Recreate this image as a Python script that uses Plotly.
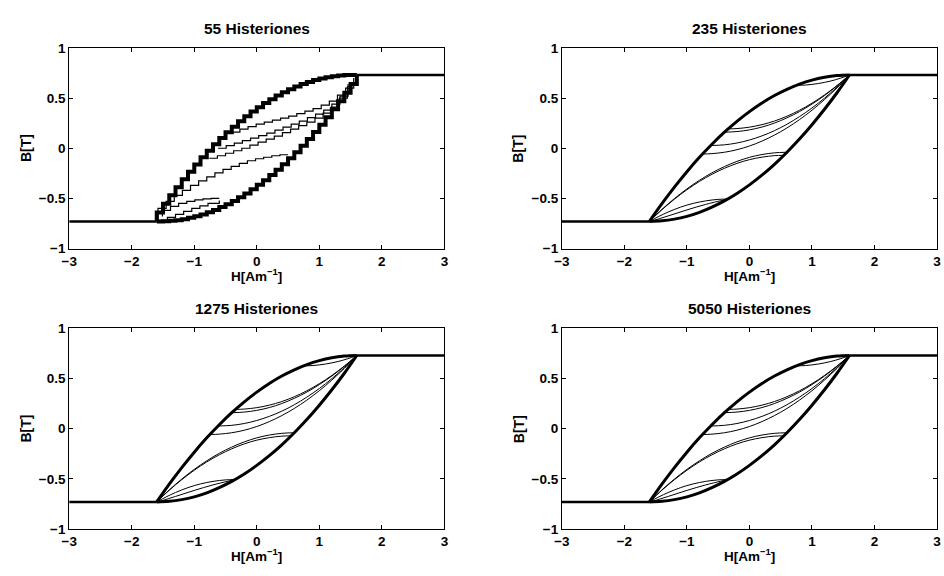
import plotly.graph_objects as go

# ---------------- data ----------------
# saturation segments
H_sat_left = [-3.0, -1.6]
B_sat_left = [-0.73, -0.73]
H_sat_right = [1.6, 3.0]
B_sat_right = [0.73, 0.73]

# smooth major loop (235 / 1275 / 5050 hysterons)
H_upper = [1.6, 1.4, 1.2, 1.0, 0.8, 0.6, 0.4, 0.2, 0.0, -0.2, -0.4, -0.6, -0.8, -1.0, -1.2, -1.4, -1.6]
B_upper = [0.73, 0.724, 0.707, 0.679, 0.639, 0.587, 0.525, 0.451, 0.365, 0.268, 0.160, 0.040, -0.091, -0.234, -0.388, -0.553, -0.73]
H_lower = [-1.6, -1.4, -1.2, -1.0, -0.8, -0.6, -0.4, -0.2, 0.0, 0.2, 0.4, 0.6, 0.8, 1.0, 1.2, 1.4, 1.6]
B_lower = [-0.73, -0.724, -0.707, -0.679, -0.639, -0.587, -0.525, -0.451, -0.365, -0.268, -0.160, -0.040, 0.091, 0.234, 0.388, 0.553, 0.73]

# minor curves (smooth panels)
H_c0 = [0.75, 0.9, 1.1, 1.3, 1.45, 1.6]
B_c0 = [0.627, 0.630, 0.645, 0.670, 0.697, 0.73]
H_c1 = [-0.4, -0.2, 0.0, 0.2, 0.4, 0.6, 0.8, 1.0, 1.2, 1.4, 1.6]
B_c1 = [0.16, 0.166, 0.183, 0.211, 0.251, 0.303, 0.365, 0.44, 0.525, 0.622, 0.73]
H_c1b = [-0.34, -0.2, 0.0, 0.2, 0.4, 0.6, 0.8, 1.0, 1.2, 1.4, 1.6]
B_c1b = [0.193, 0.196, 0.21, 0.235, 0.271, 0.319, 0.378, 0.449, 0.531, 0.625, 0.73]
H_c2 = [-0.62, -0.4, -0.2, 0.0, 0.2, 0.4, 0.6, 0.8, 1.0, 1.2, 1.4, 1.6]
B_c2 = [0.027, 0.034, 0.052, 0.082, 0.123, 0.175, 0.239, 0.315, 0.401, 0.499, 0.609, 0.73]
H_c3 = [-0.75, -0.6, -0.4, -0.2, 0.0, 0.2, 0.4, 0.6, 0.8, 1.0, 1.2, 1.4, 1.6]
B_c3 = [-0.058, -0.054, -0.04, -0.015, 0.022, 0.071, 0.131, 0.202, 0.285, 0.379, 0.485, 0.601, 0.73]
H_d1 = [0.55, 0.4, 0.2, 0.0, -0.2, -0.4, -0.6, -0.8, -1.0, -1.2, -1.4, -1.6]
B_d1 = [-0.071, -0.074, -0.089, -0.114, -0.151, -0.2, -0.26, -0.331, -0.414, -0.508, -0.613, -0.73]
H_d1b = [0.6, 0.4, 0.2, 0.0, -0.2, -0.4, -0.6, -0.8, -1.0, -1.2, -1.4, -1.6]
B_d1b = [-0.04, -0.046, -0.063, -0.091, -0.131, -0.183, -0.245, -0.32, -0.405, -0.502, -0.61, -0.73]
H_d2 = [-0.35, -0.5, -0.7, -0.9, -1.1, -1.3, -1.45, -1.6]
B_d2 = [-0.507, -0.510, -0.525, -0.55, -0.587, -0.636, -0.68, -0.73]
H_d3 = [-1.58, -1.3, -1.0, -0.7, -0.35]
B_d3 = [-0.73, -0.675, -0.615, -0.56, -0.507]

# 55-hysteron panel: stepped major loop and stepped inner curves
H_up_steps = [1.6, 1.5, 1.4, 1.3, 1.2, 1.1, 1.0, 0.9, 0.8, 0.7, 0.6, 0.5, 0.4, 0.3, 0.2, 0.1, 0.0,
              -0.1, -0.2, -0.3, -0.4, -0.5, -0.6, -0.7, -0.8, -0.9, -1.0, -1.1, -1.2, -1.3, -1.4, -1.5, -1.6]
B_up_steps = [0.73, 0.729, 0.724, 0.717, 0.707, 0.694, 0.679, 0.660, 0.639, 0.615, 0.587, 0.558, 0.525,
              0.489, 0.451, 0.409, 0.365, 0.318, 0.268, 0.215, 0.160, 0.101, 0.040, -0.024, -0.091,
              -0.161, -0.234, -0.310, -0.388, -0.469, -0.553, -0.640, -0.730]
H_lo_steps = [-1.6, -1.5, -1.4, -1.3, -1.2, -1.1, -1.0, -0.9, -0.8, -0.7, -0.6, -0.5, -0.4, -0.3, -0.2, -0.1, 0.0,
              0.1, 0.2, 0.3, 0.4, 0.5, 0.6, 0.7, 0.8, 0.9, 1.0, 1.1, 1.2, 1.3, 1.4, 1.5, 1.6]
B_lo_steps = [-0.73, -0.729, -0.724, -0.717, -0.707, -0.694, -0.679, -0.660, -0.639, -0.615, -0.587, -0.558, -0.525,
              -0.489, -0.451, -0.409, -0.365, -0.318, -0.268, -0.215, -0.160, -0.101, -0.040, 0.024, 0.091,
              0.161, 0.234, 0.310, 0.388, 0.469, 0.553, 0.640, 0.730]
H_s1 = [-0.4, -0.27, -0.14, -0.01, 0.12, 0.25, 0.38, 0.51, 0.64, 0.77, 0.9, 1.03, 1.16, 1.29, 1.42, 1.55]
B_s1 = [0.16, 0.19, 0.215, 0.24, 0.26, 0.28, 0.3, 0.32, 0.345, 0.37, 0.395, 0.43, 0.47, 0.53, 0.6, 0.7]
H_s2 = [-0.62, -0.49, -0.36, -0.23, -0.1, 0.03, 0.16, 0.29, 0.42, 0.55, 0.68, 0.81, 0.94, 1.07, 1.2, 1.33, 1.46]
B_s2 = [0.0, 0.025, 0.05, 0.075, 0.1, 0.125, 0.15, 0.18, 0.21, 0.24, 0.27, 0.305, 0.34, 0.38, 0.44, 0.52, 0.64]
H_s3 = [-0.76, -0.63, -0.5, -0.37, -0.24, -0.11, 0.02, 0.15, 0.28, 0.41, 0.54, 0.67, 0.8, 0.93, 1.06, 1.19, 1.32, 1.45]
B_s3 = [-0.1, -0.075, -0.05, -0.025, 0.0, 0.03, 0.06, 0.09, 0.12, 0.155, 0.19, 0.225, 0.26, 0.3, 0.35, 0.41, 0.5, 0.62]
H_s4 = [0.5, 0.37, 0.24, 0.11, -0.02, -0.15, -0.28, -0.41, -0.54, -0.67, -0.8, -0.93, -1.06, -1.19, -1.32, -1.45, -1.58]
B_s4 = [-0.065, -0.075, -0.09, -0.105, -0.125, -0.15, -0.18, -0.21, -0.245, -0.285, -0.325, -0.37, -0.42, -0.47, -0.53, -0.6, -0.72]
H_s5 = [-0.6, -0.73, -0.86, -0.99, -1.12, -1.25, -1.38, -1.51]
B_s5 = [-0.5, -0.505, -0.515, -0.53, -0.55, -0.58, -0.62, -0.68]
H_s6 = [-1.56, -1.43, -1.3, -1.17, -1.04, -0.91, -0.78, -0.6]
B_s6 = [-0.72, -0.69, -0.66, -0.63, -0.6, -0.575, -0.55, -0.52]

titles = ["55 Histeriones", "235 Histeriones", "1275 Histeriones", "5050 Histeriones"]
x_ticks = [-3, -2, -1, 0, 1, 2, 3]
x_ticktext = ["\u22123", "\u22122", "\u22121", "0", "1", "2", "3"]
y_ticks = [-1, -0.5, 0, 0.5, 1]
y_ticktext = ["\u22121", "\u22120.5", "0", "0.5", "1"]

# ---------------- figure ----------------
W, H = 944, 576
fig = go.Figure()

# pixel boxes of the four axes (left, right, top, bottom)
boxes = [(62, 442, 42, 248), (561, 941, 42, 248), (62, 442, 330, 536), (561, 941, 330, 536)]

def add(i, xs, ys, width, shape="linear"):
    ax = "" if i == 0 else str(i + 1)
    fig.add_trace(go.Scatter(x=xs, y=ys, mode="lines",
                             line=dict(color="black", width=width, shape=shape),
                             xaxis="x" + ax, yaxis="y" + ax,
                             showlegend=False, hoverinfo="skip"))

# panel 1 (stepped)
add(0, H_sat_left, B_sat_left, 2.5)
add(0, H_sat_right, B_sat_right, 2.5)
for hx, by in [(H_s1, B_s1), (H_s2, B_s2), (H_s3, B_s3), (H_s4, B_s4), (H_s5, B_s5), (H_s6, B_s6)]:
    add(0, hx, by, 1.2, "hv")
add(0, H_up_steps, B_up_steps, 4, "hv")
add(0, H_lo_steps, B_lo_steps, 4, "hv")

# panels 2-4 (smooth)
for i in (1, 2, 3):
    add(i, H_sat_left, B_sat_left, 2.5)
    add(i, H_sat_right, B_sat_right, 2.5)
    for hx, by in [(H_c0, B_c0), (H_c1, B_c1), (H_c1b, B_c1b), (H_c2, B_c2), (H_c3, B_c3),
                   (H_d1, B_d1), (H_d1b, B_d1b), (H_d2, B_d2), (H_d3, B_d3)]:
        add(i, hx, by, 1.0, "spline")
    add(i, H_upper, B_upper, 3.0, "spline")
    add(i, H_lower, B_lower, 3.0, "spline")

tickfont = dict(family="Liberation Sans", size=13.5, color="black", weight="bold")
layout = dict(width=W, height=H, margin=dict(l=0, r=0, t=0, b=0),
              paper_bgcolor="white", plot_bgcolor="white", showlegend=False)
annotations = []
for i, (l, r, t, b) in enumerate(boxes):
    ax = "" if i == 0 else str(i + 1)
    layout["xaxis" + ax] = dict(domain=[l / W, r / W], anchor="y" + ax, range=[-3, 3],
                                tickvals=x_ticks, ticktext=x_ticktext, ticks="inside", ticklen=4,
                                tickcolor="black", showline=True, linecolor="black", linewidth=1,
                                mirror="ticks", showgrid=False, zeroline=False, tickfont=tickfont)
    layout["yaxis" + ax] = dict(domain=[1 - b / H, 1 - t / H], anchor="x" + ax, range=[-1, 1],
                                tickvals=y_ticks, ticktext=y_ticktext, ticks="inside", ticklen=4,
                                tickcolor="black", showline=True, linecolor="black", linewidth=1,
                                mirror="ticks", showgrid=False, zeroline=False, tickfont=tickfont)
    cx = (l + r) / 2 / W
    annotations.append(dict(text="<b>" + titles[i] + "</b>", x=cx, y=1 - (t - 20) / H,
                            xref="paper", yref="paper", showarrow=False, xanchor="center",
                            yanchor="middle", font=dict(family="Liberation Sans", size=15.5, color="black")))
    annotations.append(dict(text="<b>H[Am<sup>\u22121</sup>]</b>", x=cx, y=1 - (b + 27) / H,
                            xref="paper", yref="paper", showarrow=False, xanchor="center",
                            yanchor="middle", font=dict(family="Liberation Sans", size=13.5, color="black")))
    annotations.append(dict(text="<b>B[T]</b>", x=(l - 44) / W, y=1 - (t + b) / 2 / H,
                            xref="paper", yref="paper", showarrow=False, xanchor="center",
                            yanchor="middle", textangle=-90,
                            font=dict(family="Liberation Sans", size=14, color="black")))
layout["annotations"] = annotations
fig.update_layout(**layout)
fig.write_html("out.html")
